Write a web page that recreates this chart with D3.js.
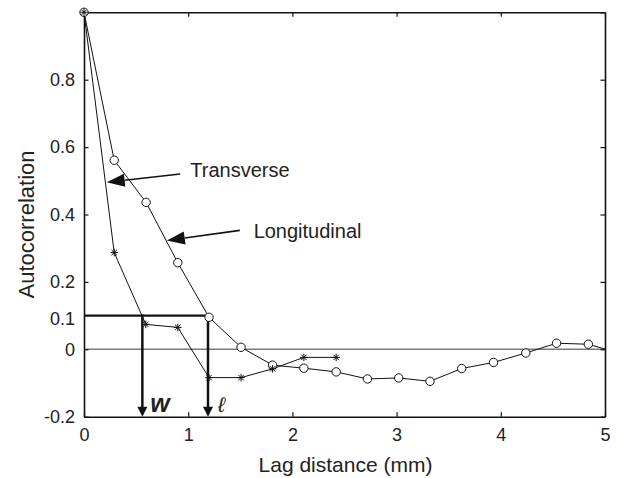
<!DOCTYPE html>
<html>
<head>
<meta charset="utf-8">
<script src="https://cdn.jsdelivr.net/npm/d3@7"></script>
<style>
  html, body { margin: 0; padding: 0; background: #fff; }
  svg { display: block; }
  text { font-family: "Liberation Sans", Arial, Helvetica, sans-serif; fill: #222; }
</style>
</head>
<body>
<svg id="chart" width="622" height="478"></svg>
<script>
// ---------- data ----------
const lagLongitudinal = [0, 0.29, 0.596, 0.90, 1.20, 1.507, 1.81, 2.11, 2.42, 2.72, 3.02, 3.32, 3.625, 3.93, 4.24, 4.535, 4.84, 5.14];
const longitudinal    = [1.0, 0.561, 0.436, 0.257, 0.095, 0.006, -0.047, -0.056, -0.067, -0.088, -0.085, -0.095, -0.057, -0.039, -0.011, 0.018, 0.015, -0.012];
const lagTransverse   = [0, 0.29, 0.593, 0.90, 1.20, 1.507, 1.81, 2.11, 2.42];
const transverse      = [1.0, 0.287, 0.074, 0.065, -0.084, -0.084, -0.058, -0.024, -0.024];

const xTicks = [0, 1, 2, 3, 4, 5];
const yTicks = [-0.2, 0, 0.2, 0.4, 0.6, 0.8, 1];
const yTickLabels = [-0.2, 0, 0.1, 0.2, 0.4, 0.6, 0.8];

const threshold = 0.1;          // horizontal guide level
const widthLag = 0.56;          // w
const lengthLag = 1.19;         // l

const annotations = [
  { label: "Transverse",   tail: [0.923, 0.52],  tip: [0.218, 0.496], text: [1.02, 0.512] },
  { label: "Longitudinal", tail: [1.495, 0.353], tip: [0.795, 0.323], text: [1.628, 0.331] }
];

// ---------- layout ----------
const W = 622, H = 478;
const margin = { left: 84, right: 17, top: 12.3, bottom: 61.3 };
const svg = d3.select("#chart");

const x = d3.scaleLinear().domain([0, 5]).range([margin.left, W - margin.right]);
const y = d3.scaleLinear().domain([-0.2, 1]).range([H - margin.bottom, margin.top]);

svg.append("defs").append("clipPath").attr("id", "plotclip")
  .append("rect")
  .attr("x", x(0) - 6).attr("y", y(1) - 6)
  .attr("width", x(5) - x(0) + 6).attr("height", y(-0.2) - y(1) + 6);

// zero line
svg.append("line")
  .attr("x1", x(0)).attr("x2", x(5))
  .attr("y1", y(0)).attr("y2", y(0))
  .attr("stroke", "#7a7a7a").attr("stroke-width", 1.5);

// axes (ticks inward)
const fmt = d => d === 0 ? "0" : String(d);
const axB = svg.append("g").attr("transform", `translate(0,${y(-0.2)})`)
  .call(d3.axisBottom(x).tickValues(xTicks).tickSizeInner(-4.5).tickSizeOuter(0).tickPadding(12).tickFormat(fmt));
const axT = svg.append("g").attr("transform", `translate(0,${y(1)})`)
  .call(d3.axisTop(x).tickValues(xTicks).tickSizeInner(-4.5).tickSizeOuter(0).tickFormat(""));
const axL = svg.append("g").attr("transform", `translate(${x(0)},0)`)
  .call(d3.axisLeft(y).tickValues(yTicks).tickSizeInner(-4.5).tickSizeOuter(0).tickFormat(""));
const axR = svg.append("g").attr("transform", `translate(${x(5)},0)`)
  .call(d3.axisRight(y).tickValues(yTicks).tickSizeInner(-4.5).tickSizeOuter(0).tickFormat(""));

[axB, axT, axL, axR].forEach(g => {
  g.select(".domain").attr("stroke", "#111").attr("stroke-width", 1.6);
  g.selectAll(".tick line").attr("stroke", "#111").attr("stroke-width", 1.2);
});
axB.selectAll(".tick text").attr("font-size", 18).attr("fill", "#222")
  .attr("font-family", '"Liberation Sans", Arial, sans-serif');

// y tick labels (custom set incl. 0.1)
svg.append("g").selectAll("text").data(yTickLabels).join("text")
  .attr("x", x(0) - 9)
  .attr("y", d => y(d) + (d === 0.1 ? 3 : 0))
  .attr("dy", "0.35em")
  .attr("text-anchor", "end")
  .attr("font-size", 18)
  .text(d => fmt(d));

// axis titles
svg.append("text")
  .attr("x", (x(0) + x(5)) / 2 + 1).attr("y", 472)
  .attr("text-anchor", "middle").attr("font-size", 21)
  .text("Lag distance (mm)");
svg.append("text")
  .attr("transform", `translate(33.5,${(y(1) + y(-0.2)) / 2 + 10}) rotate(-90)`)
  .attr("text-anchor", "middle").attr("font-size", 22)
  .text("Autocorrelation");

// guide lines (thick) with arrowheads
const guide = svg.append("g").attr("stroke", "#111").attr("fill", "#111");
guide.append("line")
  .attr("x1", x(0)).attr("x2", x(1.2))
  .attr("y1", y(threshold)).attr("y2", y(threshold))
  .attr("stroke-width", 2.4);
[widthLag, lengthLag].forEach(v => {
  const px = x(v), yTip = y(-0.2);
  guide.append("line")
    .attr("x1", px).attr("x2", px)
    .attr("y1", y(threshold) - 1.2).attr("y2", yTip - 8)
    .attr("stroke-width", 2.5);
  guide.append("path")
    .attr("d", `M${px - 5},${yTip - 10} L${px + 5},${yTip - 10} L${px},${yTip} Z`)
    .attr("stroke", "none");
});

// w and l labels
svg.append("text")
  .attr("x", x(0.635)).attr("y", y(-0.185))
  .attr("font-size", 25).attr("font-weight", "bold").attr("font-style", "italic")
  .attr("fill", "#111")
  .text("w");
svg.append("text")
  .attr("x", x(1.285)).attr("y", y(-0.185))
  .attr("font-size", 21).attr("font-style", "italic")
  .attr("font-family", '"DejaVu Serif", "Liberation Serif", serif')
  .attr("fill", "#555")
  .text("\u2113");

// series
const plot = svg.append("g").attr("clip-path", "url(#plotclip)");
const line = d3.line().x(d => x(d[0])).y(d => y(d[1]));
const longPts = lagLongitudinal.map((d, i) => [d, longitudinal[i]]);
const transPts = lagTransverse.map((d, i) => [d, transverse[i]]);

plot.append("path").datum(longPts).attr("d", line)
  .attr("fill", "none").attr("stroke", "#111").attr("stroke-width", 1);
plot.append("path").datum(transPts).attr("d", line)
  .attr("fill", "none").attr("stroke", "#111").attr("stroke-width", 1);

// circle markers
plot.append("g").selectAll("circle").data(longPts.filter(d => d[0] <= 5)).join("circle")
  .attr("cx", d => x(d[0])).attr("cy", d => y(d[1])).attr("r", 4.2)
  .attr("fill", "#fff").attr("stroke", "#111").attr("stroke-width", 1);

// asterisk markers
const s = 3.8, sd = s * 0.72;
plot.append("g").selectAll("path").data(transPts).join("path")
  .attr("transform", d => `translate(${x(d[0])},${y(d[1])})`)
  .attr("d", `M${-s},0L${s},0M0,${-s}L0,${s}M${-sd},${-sd}L${sd},${sd}M${-sd},${sd}L${sd},${-sd}`)
  .attr("fill", "none").attr("stroke", "#111").attr("stroke-width", 1);

// annotation arrows
annotations.forEach(a => {
  const tx = x(a.tail[0]), ty = y(a.tail[1]);
  const hx = x(a.tip[0]), hy = y(a.tip[1]);
  const ang = Math.atan2(hy - ty, hx - tx);
  const L = 18, hw = 6.5;
  const bx = hx - L * Math.cos(ang), by = hy - L * Math.sin(ang);
  const nx = -Math.sin(ang), ny = Math.cos(ang);
  svg.append("line")
    .attr("x1", tx).attr("y1", ty).attr("x2", bx).attr("y2", by)
    .attr("stroke", "#111").attr("stroke-width", 1.6);
  svg.append("path")
    .attr("d", `M${hx},${hy}L${bx + nx * hw},${by + ny * hw}L${bx - nx * hw},${by - ny * hw}Z`)
    .attr("fill", "#111");
  svg.append("text")
    .attr("x", x(a.text[0])).attr("y", y(a.text[1]))
    .attr("font-size", 20)
    .text(a.label);
});
</script>
</body>
</html>
